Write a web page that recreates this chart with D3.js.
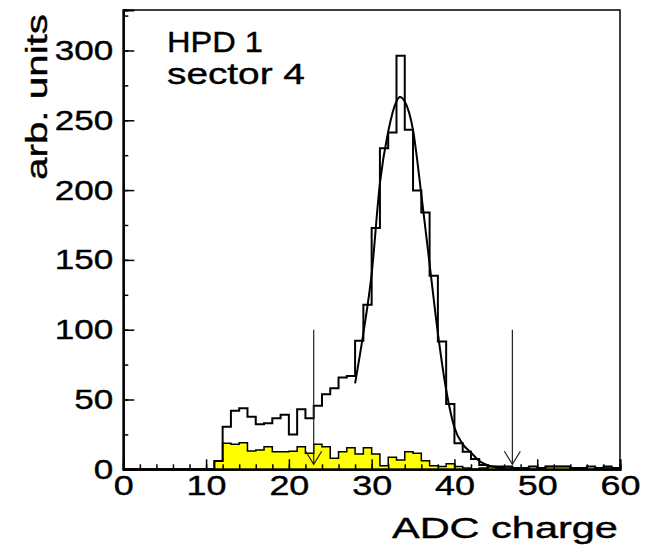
<!DOCTYPE html>
<html>
<head>
<meta charset="utf-8">
<script src="https://cdn.jsdelivr.net/npm/d3@7"></script>
<style>
  html, body { margin: 0; padding: 0; background: #fff; }
  svg { display: block; }
  text { font-family: "Liberation Sans", Arial, sans-serif; fill: #000; stroke: #000; stroke-width: 0.4; }
</style>
</head>
<body>
<svg id="chart" width="645" height="546"></svg>
<script>
// bin contents, one value per unit-wide bin starting at 0
const allCounts = [
  0, 0, 0, 0, 0, 0, 0, 0, 0, 0,
  0, 6, 30.5, 42, 43.7, 37.7, 32.2, 33, 36.5, 39,
  25, 43, 36.5, 45.6, 53.8, 58, 65.7, 66.9, 92, 117.8,
  172.8, 230, 241.3, 296.3, 243.2, 199.7, 184, 138.6, 91.5, 46.8,
  18.6, 12.6, 7.4, 3, 2, 2, 2, 1, 1, 2,
  1, 2, 2, 2, 1, 1, 2, 1, 2, 1
];
const selCounts = [
  0, 0, 0, 0, 0, 0, 0, 0, 0, 0,
  0, 6, 18.6, 17.9, 19, 13.1, 13.8, 16.2, 12.6, 12.6,
  13, 16.2, 11.5, 18, 16.2, 7.9, 12.6, 15.5, 11, 15.5,
  11, 2.6, 8.6, 6.7, 12.6, 11.5, 6.2, 2.6, 2, 4,
  2, 1, 0, 1, 2, 1, 1, 0, 1, 0,
  0, 2, 2, 2, 1, 0, 0, 1, 1, 0
];
// fitted curve
const fitX = [28, 29, 30, 31, 32, 33, 33.4, 34, 35, 36, 37, 38, 39, 40, 41, 42, 43, 44, 45, 46];
const fitY = [61.6, 97.5, 140, 205, 242, 263.5, 266.7, 263.5, 243, 197, 147, 97.6, 57, 30, 18, 12, 6, 3, 1.5, 0.7];
// cut positions marked by arrows
const cuts = [23, 47];
const cutTop = 100;

const xTicksMajor = [0, 10, 20, 30, 40, 50, 60];
const yTicksMajor = [0, 50, 100, 150, 200, 250, 300];

const svg = d3.select("#chart");
const mLeft = 123.3, mRight = 620, mTop = 10, mBottom = 469.3;

const x = d3.scaleLinear().domain([0, 60]).range([mLeft, mRight]);
const y = d3.scaleLinear().domain([0, 329]).range([mBottom, mTop]);

const stepPts = arr => arr.map((v, i) => [i, v]).concat([[arr.length, arr[arr.length - 1]]]);

// yellow histogram
svg.append("path")
  .datum(stepPts(selCounts))
  .attr("fill", "#ffff00")
  .attr("d", d3.area().curve(d3.curveStepAfter).x(d => x(d[0])).y0(y(0)).y1(d => y(d[1])));
svg.append("path")
  .datum(stepPts(selCounts))
  .attr("fill", "none").attr("stroke", "#000").attr("stroke-width", 1.5)
  .attr("d", d3.line().curve(d3.curveStepAfter).x(d => x(d[0])).y(d => y(d[1])));

// full histogram outline
svg.append("path")
  .datum(stepPts(allCounts))
  .attr("fill", "none").attr("stroke", "#000").attr("stroke-width", 2)
  .attr("d", d3.line().curve(d3.curveStepAfter).x(d => x(d[0])).y(d => y(d[1])));

// fit
svg.append("path")
  .datum(fitX.map((v, i) => [v, fitY[i]]))
  .attr("fill", "none").attr("stroke", "#000").attr("stroke-width", 2)
  .attr("d", d3.line().curve(d3.curveMonotoneX).x(d => x(d[0])).y(d => y(d[1])));

// cut arrows
cuts.forEach(c => {
  const cx = x(c), tip = mBottom - 5;
  svg.append("line")
    .attr("x1", cx).attr("x2", cx).attr("y1", y(cutTop)).attr("y2", tip)
    .attr("stroke", "#222").attr("stroke-width", 1.2);
  svg.append("path")
    .attr("d", `M${cx - 8},${tip - 13}L${cx},${tip}L${cx + 8},${tip - 13}`)
    .attr("fill", "none").attr("stroke", "#222").attr("stroke-width", 1.2);
});

// frame
svg.append("rect")
  .attr("x", mLeft).attr("y", mTop).attr("width", mRight - mLeft).attr("height", mBottom - mTop)
  .attr("fill", "none").attr("stroke", "#000").attr("stroke-width", 1.5);

// axes with inward ticks
const gx = svg.append("g").attr("transform", `translate(0,${mBottom})`);
gx.call(d3.axisBottom(x).tickValues(d3.range(0, 61, 2)).tickSize(-5).tickFormat(""));
const gxMaj = svg.append("g").attr("transform", `translate(0,${mBottom})`);
gxMaj.call(d3.axisBottom(x).tickValues(xTicksMajor).tickSize(-10).tickPadding(6));

const gy = svg.append("g").attr("transform", `translate(${mLeft},0)`);
gy.call(d3.axisLeft(y).tickValues(d3.range(0, 326, 25)).tickSize(-5).tickFormat(""));
const gyMaj = svg.append("g").attr("transform", `translate(${mLeft},0)`);
gyMaj.call(d3.axisLeft(y).tickValues(yTicksMajor).tickSize(-11).tickPadding(8));

svg.selectAll(".domain").attr("stroke", "#000").attr("stroke-width", 2);
svg.selectAll(".tick line").attr("stroke", "#000").attr("stroke-width", 1.5);

// the original font is wide, so stretch glyphs horizontally to the measured widths
function stretch(el, target) {
  const w = el.getComputedTextLength();
  return target / w;
}

gxMaj.selectAll(".tick text")
  .attr("font-size", 28).attr("dy", "0.71em")
  .each(function(d) {
    const s = stretch(this, String(d).length * 20);
    d3.select(this).attr("transform", `scale(${s},1)`);
  });
gyMaj.selectAll(".tick text")
  .attr("font-size", 28).attr("x", 0)
  .each(function(d) {
    const s = stretch(this, String(d).length * 19.5);
    d3.select(this).attr("transform", `translate(-10,0) scale(${s},1)`);
  });

// labels
const label = (txt, tx, ty, len, rot) => {
  const t = svg.append("text").attr("font-size", 30).text(txt);
  const s = stretch(t.node(), len);
  if (rot) t.attr("transform", `translate(${tx},${ty}) rotate(-90) scale(${s},1)`).attr("text-anchor", "end");
  else t.attr("transform", `translate(${tx},${ty}) scale(${s},1)`);
  return t;
};
label("HPD 1", 167, 52, 96);
label("sector 4", 167, 84, 138);
label("ADC charge", 392, 538, 226);
label("arb. units", 47, 14, 166, true);
</script>
</body>
</html>
